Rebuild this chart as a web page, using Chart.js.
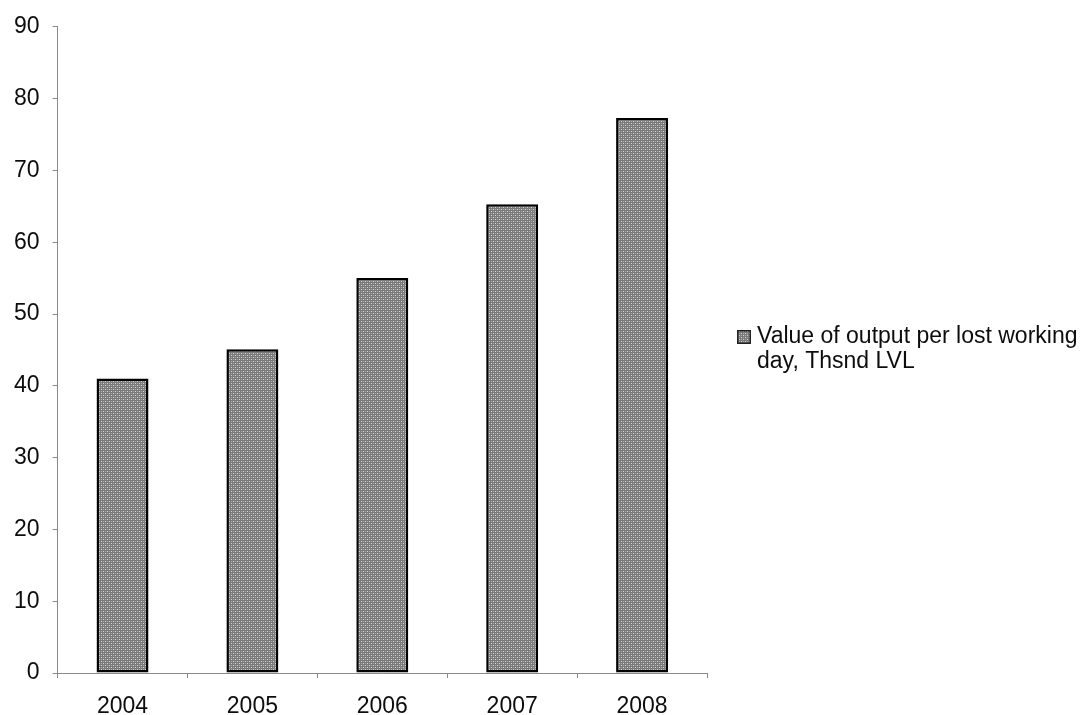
<!DOCTYPE html>
<html>
<head>
<meta charset="utf-8">
<script src="https://cdn.jsdelivr.net/npm/chart.js@4/dist/chart.umd.min.js"></script>
<style>
  html, body { margin: 0; padding: 0; background: #fff; }
  #wrap { width: 1089px; height: 715px; position: relative; }
</style>
</head>
<body>
<div id="wrap"><canvas id="outputChart"></canvas></div>
<script>
// Yearly output per lost working day
const years = ['2004', '2005', '2006', '2007', '2008'];
const outputValues = [41.0, 45.1, 55.0, 65.3, 77.3];
const seriesLabel = ['Value of output per lost working', 'day, Thsnd LVL'];
const yTicks = [0, 10, 20, 30, 40, 50, 60, 70, 80, 90];

const FONT = '"Liberation Sans", Arial, sans-serif';
const TEXT_COLOR = '#0d0d0d';
const AXIS_COLOR = '#8a8a8a';

// Dotted grey fill used for the bars
function makeDotPattern() {
  const c = document.createElement('canvas');
  c.width = 4;
  c.height = 4;
  const g = c.getContext('2d');
  g.fillStyle = '#7a7a7a';
  g.fillRect(0, 0, 4, 4);
  g.fillStyle = '#d4d4d4';
  g.fillRect(1, 1, 1, 1);
  g.fillRect(3, 3, 1, 1);
  g.fillStyle = '#a8a8a8';
  g.fillRect(3, 1, 1, 1);
  g.fillRect(1, 3, 1, 1);
  return g.createPattern(c, 'repeat');
}

const dotPattern = makeDotPattern();

// Two-line legend to the right of the plot
const sideLegend = {
  id: 'sideLegend',
  afterDraw(chart) {
    const ctx = chart.ctx;
    const x = 737;
    const y = 330;
    ctx.save();
    ctx.fillStyle = dotPattern;
    ctx.fillRect(x, y, 14, 14);
    ctx.strokeStyle = '#222';
    ctx.lineWidth = 1.5;
    ctx.strokeRect(x + 0.75, y + 0.75, 12.5, 12.5);
    ctx.fillStyle = TEXT_COLOR;
    ctx.font = '23px ' + FONT;
    ctx.textBaseline = 'alphabetic';
    ctx.textAlign = 'left';
    ctx.fillText(seriesLabel[0], x + 20, y + 13);
    ctx.fillText(seriesLabel[1], x + 20, y + 38);
    ctx.restore();
  },
};

new Chart(document.getElementById('outputChart'), {
  type: 'bar',
  data: {
    labels: years,
    datasets: [
      {
        label: seriesLabel.join(' '),
        data: outputValues,
        backgroundColor: dotPattern,
        borderColor: '#000',
        borderWidth: 2.5,
        borderSkipped: false,
        categoryPercentage: 1,
        barPercentage: 0.4,
      },
    ],
  },
  options: {
    responsive: true,
    maintainAspectRatio: false,
    animation: false,
    layout: { padding: { top: 13, right: 382, bottom: -20, left: 1 } },
    plugins: {
      legend: { display: false },
      tooltip: { enabled: false },
    },
    scales: {
      x: {
        grid: {
          offset: true,
          drawOnChartArea: false,
          drawTicks: true,
          tickLength: 5,
          color: AXIS_COLOR,
        },
        border: { color: AXIS_COLOR, width: 1 },
        ticks: {
          color: TEXT_COLOR,
          font: { family: FONT, size: 23, lineHeight: 1 },
          padding: 17,
        },
      },
      y: {
        min: 0,
        max: 90,
        afterBuildTicks: (axis) => {
          axis.ticks = yTicks.map((v) => ({ value: v }));
        },
        grid: {
          drawOnChartArea: false,
          drawTicks: true,
          tickLength: 5,
          color: AXIS_COLOR,
        },
        border: { color: AXIS_COLOR, width: 1 },
        ticks: { color: TEXT_COLOR, font: { family: FONT, size: 23 }, padding: 13 },
      },
    },
  },
  plugins: [sideLegend],
});
</script>
</body>
</html>
